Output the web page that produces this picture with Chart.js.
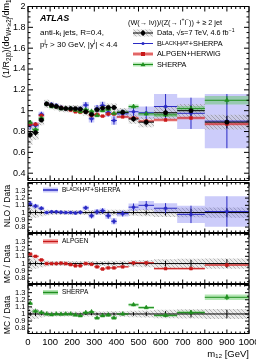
<!DOCTYPE html>
<html>
<head>
<meta charset="utf-8">
<script src="https://cdn.jsdelivr.net/npm/chart.js@4.4.1/dist/chart.umd.min.js"></script>
<style>
html, body { margin: 0; padding: 0; background: #fff; }
#wrap { position: relative; width: 256px; height: 360px; }
.pan { position: absolute; left: 0; width: 256px; }
</style>
</head>
<body>
<div id="wrap">
  <div class="pan" style="top:0;height:185px"><canvas id="cMain"></canvas></div>
  <div class="pan" style="top:178px;height:59px"><canvas id="cBH"></canvas></div>
  <div class="pan" style="top:229px;height:59px"><canvas id="cAlp"></canvas></div>
  <div class="pan" style="top:280px;height:80px"><canvas id="cSh"></canvas></div>
</div>
<script>
// m12 bin edges [GeV]
const edges = [0, 20, 48, 73, 96, 117, 139, 160, 182, 204, 225, 248, 275, 300, 325, 350, 376, 402, 455, 500, 570, 675, 800, 1000];

// data (main panel) and its uncertainties
const dataVals = [0.77, 0.79, 0.91, 1.065, 1.05, 1.04, 1.025, 1.02, 1.02, 1.02, 1.015, 0.99, 0.965, 1.01, 1.025, 1.03, 1.03, 0.985, 0.92, 0.89, 0.98, 1.0, 0.89];
const dataStat = [0.03, 0.03, 0.02, 0.015, 0.012, 0.012, 0.012, 0.012, 0.012, 0.012, 0.012, 0.015, 0.015, 0.015, 0.015, 0.015, 0.02, 0.02, 0.025, 0.03, 0.04, 0.05, 0.06];
const dataSys = [0.10, 0.07, 0.05, 0.04, 0.035, 0.035, 0.035, 0.035, 0.035, 0.035, 0.035, 0.035, 0.035, 0.035, 0.035, 0.04, 0.04, 0.04, 0.045, 0.05, 0.06, 0.065, 0.07];

// BlackHat+Sherpa
const bhMain = [0.86, 0.86, 0.965, 1.065, 1.06, 1.05, 1.03, 1.02, 1.02, 1.015, 1.02, 1.054, 0.922, 1.02, 1.05, 0.984, 0.906, 0.97, 0.99, 0.98, 1.04, 0.975, 0.90];
const bhMainErr = [0.04, 0.03, 0.025, 0.02, 0.02, 0.02, 0.02, 0.02, 0.02, 0.02, 0.02, 0.03, 0.035, 0.035, 0.035, 0.04, 0.04, 0.04, 0.05, 0.06, 0.12, 0.15, 0.26];
const bhRatio = [1.12, 1.09, 1.06, 1.0, 1.01, 1.01, 1.005, 1.0, 1.0, 0.995, 1.005, 1.065, 0.955, 1.01, 1.025, 0.955, 0.88, 0.985, 1.075, 1.10, 1.06, 0.975, 1.015];
const bhErr = [0.04, 0.03, 0.025, 0.02, 0.02, 0.02, 0.02, 0.02, 0.02, 0.02, 0.02, 0.03, 0.035, 0.035, 0.035, 0.04, 0.04, 0.04, 0.05, 0.06, 0.07, 0.12, 0.21];

// ALPGEN+HERWIG
const alpMain = [0.87, 0.87, 0.955, 1.065, 1.05, 1.04, 1.03, 1.02, 1.005, 0.99, 0.985, 0.99, 0.955, 0.965, 0.948, 0.968, 0.968, 0.94, 0.929, 0.90, 0.911, 0.93, 0.872];
const alpRatio = [1.13, 1.10, 1.05, 1.0, 1.0, 1.0, 1.005, 1.0, 0.985, 0.97, 0.97, 1.0, 0.99, 0.955, 0.925, 0.94, 0.94, 0.955, 1.01, 1.01, 0.93, 0.93, 0.98];
const alpErr = [0.02, 0.015, 0.012, 0.008, 0.008, 0.008, 0.008, 0.008, 0.008, 0.008, 0.008, 0.01, 0.01, 0.01, 0.01, 0.01, 0.01, 0.012, 0.012, 0.012, 0.015, 0.015, 0.015];

// SHERPA
const shMain = [0.886, 0.82, 0.928, 1.065, 1.04, 1.04, 1.02, 1.02, 1.02, 1.005, 0.99, 1.01, 0.994, 0.954, 0.999, 1.015, 0.973, 0.985, 1.04, 0.97, 0.96, 1.02, 1.10];
const shRatio = [1.15, 1.04, 1.02, 1.0, 0.99, 1.0, 0.995, 1.0, 1.0, 0.985, 0.975, 1.02, 1.03, 0.945, 0.975, 0.985, 0.945, 1.0, 1.13, 1.09, 0.98, 1.02, 1.235];
const shErr = [0.02, 0.015, 0.012, 0.01, 0.01, 0.01, 0.01, 0.01, 0.01, 0.01, 0.01, 0.012, 0.012, 0.012, 0.012, 0.015, 0.015, 0.015, 0.02, 0.02, 0.02, 0.025, 0.04];

// tick labels
const xTicks = [0, 100, 200, 300, 400, 500, 600, 700, 800, 900, 1000];
const mainTicks = [0.4, 0.6, 0.8, 1, 1.2, 1.4, 1.6, 1.8, 2];
const ratioTicks = [0.8, 0.9, 1, 1.1, 1.2, 1.3];

const FONT = "'Liberation Sans', Arial, Helvetica, sans-serif";
Chart.defaults.font.family = FONT;
Chart.defaults.color = '#000';

const BLUE = '#2a2ac4', BLUE_BOX = 'rgba(110,110,240,0.35)';
const RED = '#c81818', RED_BAND = 'rgba(240,90,90,0.45)';
const GREEN = '#1f8f1f', GREEN_BAND = 'rgba(90,200,90,0.45)';

// hatched fill for the data uncertainty
const tile = document.createElement('canvas');
tile.width = 4; tile.height = 4;
const tg = tile.getContext('2d');
tg.fillStyle = 'rgba(200,200,200,0.35)';
tg.fillRect(0, 0, 4, 4);
tg.strokeStyle = 'rgba(120,120,120,0.7)';
tg.lineWidth = 0.7;
tg.beginPath(); tg.moveTo(0, 0); tg.lineTo(4, 4); tg.moveTo(-1, 3); tg.lineTo(1, 5); tg.moveTo(3, -1); tg.lineTo(5, 1); tg.stroke();
const HATCH = tg.createPattern(tile, 'repeat');

const nBins = edges.length - 1;
const centers = edges.slice(0, -1).map((e, i) => (e + edges[i + 1]) / 2);
const plus = (a, b) => a.map((v, i) => v + b[i]);
const minus = (a, b) => a.map((v, i) => v - b[i]);
const ones = centers.map(() => 1);

function stepLine(vals) {
    const pts = vals.map((v, i) => ({ x: edges[i], y: v }));
    pts.push({ x: edges[nBins], y: vals[nBins - 1] });
    return pts;
}
function hBars(vals) {
    const pts = [];
    vals.forEach((v, i) => pts.push({ x: edges[i], y: v }, { x: edges[i + 1], y: v }, { x: edges[i + 1], y: null }));
    return pts;
}
function vBars(vals, errs) {
    const pts = [];
    vals.forEach((v, i) => pts.push({ x: centers[i], y: v - errs[i] }, { x: centers[i], y: v + errs[i] }, { x: centers[i], y: null }));
    return pts;
}
function points(vals) {
    return vals.map((v, i) => ({ x: centers[i], y: v }));
}

// datasets pushed back-to-front
function Sets() { this.list = []; }
Sets.prototype.add = function (ds) {
    const base = { pointRadius: 0, borderWidth: 1, fill: false, tension: 0, borderColor: '#000' };
    this.list.push(Object.assign(base, ds, { order: -this.list.length }));
    return this.list.length - 1;
};
Sets.prototype.band = function (up, dn, color) {
    const lo = this.add({ data: stepLine(dn), stepped: true, borderWidth: 0, borderColor: 'transparent' });
    this.add({ data: stepLine(up), stepped: true, borderWidth: 0, borderColor: 'transparent', fill: lo, backgroundColor: color });
};
Sets.prototype.marks = function (vals, color, style, r) {
    this.add({ data: points(vals), showLine: false, pointRadius: r, pointStyle: style,
        pointBackgroundColor: color, pointBorderColor: color, pointBorderWidth: 0.5 });
};

// rich text: parts are strings or [text, scale, dy, hold]
function drawParts(ctx, x, y, parts, size, style, draw = true) {
    let cx = x, held = 0;
    parts.forEach(p => {
        const [t, s, dy, hold] = typeof p === 'string' ? [p, 1, 0, false] : [p[0], p[1] ?? 1, p[2] ?? 0, p[3] ?? false];
        ctx.font = `${style || ''} ${size * s}px ${FONT}`;
        const w = ctx.measureText(t).width;
        if (draw) ctx.fillText(t, cx, y + dy * size);
        if (hold) { held = w; } else { cx += Math.max(w, held); held = 0; }
    });
    return cx - x;
}
function vTitle(ctx, cx, cy, parts, size, align) {
    ctx.save();
    ctx.translate(cx, cy);
    ctx.rotate(-Math.PI / 2);
    ctx.textBaseline = 'middle';
    ctx.textAlign = 'left';
    const w = drawParts(ctx, 0, 0, parts, size, '', false);
    drawParts(ctx, align === 'end' ? -w : -w / 2, 0, parts, size);
    ctx.restore();
}
const smallCaps = (pairs) => pairs.map(([t, small]) => small ? [t, 0.78] : t);

// frame with inward ticks on all four sides
function frame(o) {
    return {
        id: 'frame',
        afterDatasetsDraw(chart) {
            const { ctx, chartArea: a } = chart;
            const x = chart.scales.x, y = chart.scales.y;
            ctx.save();
            ctx.strokeStyle = '#000';
            ctx.lineWidth = 1;
            ctx.strokeRect(a.left, a.top, a.right - a.left, a.bottom - a.top);
            ctx.beginPath();
            for (let m = 0; m <= 1000; m += 20) {
                const px = x.getPixelForValue(m);
                const len = m % 100 === 0 ? o.xLen : o.xLen / 2;
                ctx.moveTo(px, a.bottom); ctx.lineTo(px, a.bottom - len);
                ctx.moveTo(px, a.top); ctx.lineTo(px, a.top + len);
            }
            const k0 = Math.ceil(y.min / o.yStep - 1e-6), k1 = Math.floor(y.max / o.yStep + 1e-6);
            for (let k = k0; k <= k1; k++) {
                const v = k * o.yStep;
                const r = v / o.yMajor;
                const len = Math.abs(r - Math.round(r)) < 1e-6 ? o.yLen : o.yLen / 2;
                const py = y.getPixelForValue(v);
                ctx.moveTo(a.left, py); ctx.lineTo(a.left + len, py);
                ctx.moveTo(a.right, py); ctx.lineTo(a.right - len, py);
            }
            ctx.stroke();
            ctx.restore();
        }
    };
}

function makePanel(id, sets, yMin, yMax, yTicks, yFont, padTop, showX, frameOpts, deco) {
    return new Chart(document.getElementById(id), {
        type: 'line',
        data: { datasets: sets.list },
        options: {
            responsive: true,
            maintainAspectRatio: false,
            animation: false,
            layout: { padding: { top: padTop, bottom: showX ? 0 : 2, left: 0, right: 7 } },
            plugins: { legend: { display: false }, tooltip: { enabled: false } },
            scales: {
                x: {
                    type: 'linear', min: 0, max: 1000, display: showX,
                    grid: { display: false, drawTicks: false },
                    border: { display: false },
                    afterBuildTicks: s => { s.ticks = xTicks.map(v => ({ value: v })); },
                    afterFit: s => { s.height = showX ? 26.5 : 0; s.paddingLeft = 0; s.paddingRight = 0; },
                    ticks: { font: { size: 9.5 }, padding: 3, maxRotation: 0, autoSkip: false, callback: v => String(v) },
                    title: { display: showX, text: 'm₁₂ [GeV]', align: 'end', font: { size: 9.5 }, padding: 0 }
                },
                y: {
                    min: yMin, max: yMax,
                    grid: { display: false, drawTicks: false },
                    border: { display: false },
                    afterBuildTicks: s => { s.ticks = yTicks.map(v => ({ value: v })); },
                    afterFit: s => { s.width = 28; s.paddingTop = 0; s.paddingBottom = 0; },
                    ticks: { font: { size: yFont }, padding: 2.5, autoSkip: false, callback: v => String(v) }
                }
            }
        },
        plugins: [frame(frameOpts), deco]
    });
}

// ---------- main panel ----------
const mainSets = new Sets();
mainSets.band(plus(bhMain, bhMainErr), minus(bhMain, bhMainErr), BLUE_BOX);
mainSets.band(plus(dataVals, dataSys), minus(dataVals, dataSys), HATCH);
mainSets.band(plus(alpMain, alpErr), minus(alpMain, alpErr), RED_BAND);
mainSets.band(plus(shMain, shErr), minus(shMain, shErr), GREEN_BAND);
mainSets.add({ data: hBars(bhMain), borderColor: BLUE });
mainSets.add({ data: vBars(bhMain, bhMainErr), borderColor: BLUE });
mainSets.add({ data: hBars(alpMain), borderColor: RED });
mainSets.add({ data: hBars(shMain), borderColor: GREEN });
mainSets.add({ data: vBars(shMain, shErr), borderColor: GREEN });
mainSets.add({ data: hBars(dataVals), borderColor: '#000' });
mainSets.add({ data: vBars(dataVals, dataStat), borderColor: '#000' });
mainSets.marks(bhMain, BLUE, 'circle', 1.5);
mainSets.marks(alpMain, RED, 'rect', 2);
mainSets.marks(shMain, GREEN, 'triangle', 2.5);
mainSets.marks(dataVals, '#000', 'circle', 2.2);

const mainDeco = {
    id: 'deco',
    afterDraw(chart) {
        const ctx = chart.ctx;
        ctx.save();
        ctx.fillStyle = '#000';
        ctx.textBaseline = 'middle';
        ctx.textAlign = 'left';
        drawParts(ctx, 40, 18.5, ['ATLAS'], 9, 'italic bold');
        drawParts(ctx, 40, 32.5, ['anti-k', ['t', 0.7, 0.3], ' jets, R=0.4,'], 8);
        drawParts(ctx, 40, 44.5, ['p', ['j', 0.7, -0.35, true], ['T', 0.7, 0.3], ' > 30 GeV, |y', ['j', 0.7, -0.35], '| < 4.4'], 8);
        drawParts(ctx, 128, 22.5, ['(W(→ lν))/(Z(→ l', ['+', 0.7, -0.35], 'l', ['−', 0.7, -0.35], ')) + ≥ 2 jet'], 7.3);

        const sx0 = 133, sx1 = 153, tx = 157;
        const rows = [33, 43.5, 54, 64.5];
        // data
        ctx.fillStyle = HATCH; ctx.fillRect(sx0, rows[0] - 3.5, sx1 - sx0, 7);
        ctx.strokeStyle = '#000'; ctx.lineWidth = 1;
        ctx.beginPath(); ctx.moveTo(sx0, rows[0]); ctx.lineTo(sx1, rows[0]);
        ctx.moveTo(143, rows[0] - 3); ctx.lineTo(143, rows[0] + 3); ctx.stroke();
        ctx.fillStyle = '#000'; ctx.beginPath(); ctx.arc(143, rows[0], 2.2, 0, 2 * Math.PI); ctx.fill();
        // blackhat
        ctx.strokeStyle = BLUE; ctx.beginPath(); ctx.moveTo(sx0, rows[1]); ctx.lineTo(sx1, rows[1]); ctx.stroke();
        ctx.fillStyle = BLUE; ctx.beginPath(); ctx.arc(143, rows[1], 1.5, 0, 2 * Math.PI); ctx.fill();
        // alpgen
        ctx.fillStyle = RED_BAND; ctx.fillRect(sx0, rows[2] - 2, sx1 - sx0, 4);
        ctx.strokeStyle = RED; ctx.beginPath(); ctx.moveTo(sx0, rows[2]); ctx.lineTo(sx1, rows[2]); ctx.stroke();
        ctx.fillStyle = RED; ctx.fillRect(141, rows[2] - 2, 4, 4);
        // sherpa
        ctx.fillStyle = GREEN_BAND; ctx.fillRect(sx0, rows[3] - 2, sx1 - sx0, 4);
        ctx.strokeStyle = GREEN; ctx.beginPath(); ctx.moveTo(sx0, rows[3]); ctx.lineTo(sx1, rows[3]); ctx.stroke();
        ctx.fillStyle = GREEN; ctx.beginPath(); ctx.moveTo(143, rows[3] - 2.5); ctx.lineTo(145.5, rows[3] + 1.8); ctx.lineTo(140.5, rows[3] + 1.8); ctx.closePath(); ctx.fill();

        ctx.fillStyle = '#000';
        drawParts(ctx, tx, rows[0], ['Data, √s=7 TeV, 4.6 fb', ['−1', 0.7, -0.35]], 7.3);
        drawParts(ctx, tx, rows[1], smallCaps([['B'], ['LACK', 1], ['H'], ['AT', 1], ['+SHERPA']]), 7.3);
        drawParts(ctx, tx, rows[2], ['ALPGEN+HERWIG'], 7.3);
        drawParts(ctx, tx, rows[3], ['SHERPA'], 7.3);

        vTitle(ctx, 7, 7, ['(1/R', ['2|0', 0.7, 0.3], ')(dσ', ['W+≥2j', 0.7, 0.3], '/dm', ['12', 0.7, 0.3],
            ')/(dσ', ['Z+≥2j', 0.7, 0.3], '/dm', ['12', 0.7, 0.3], ')'], 9);
        ctx.restore();
    }
};

makePanel('cMain', mainSets, 0.33, 2, mainTicks, 9, 6.5, false,
    { xLen: 5, yStep: 0.05, yMajor: 0.2, yLen: 5 }, mainDeco);

// ---------- ratio panels ----------
function ratioDeco(top, legend, title) {
    return {
        id: 'deco',
        afterDraw(chart) {
            const ctx = chart.ctx;
            ctx.save();
            ctx.textBaseline = 'middle';
            ctx.textAlign = 'left';
            const y = legend.y - top;
            ctx.fillStyle = legend.fill; ctx.fillRect(43, y - 2.5, 15, 5);
            ctx.strokeStyle = legend.color; ctx.lineWidth = 1.5;
            ctx.beginPath(); ctx.moveTo(43, y); ctx.lineTo(58, y); ctx.stroke();
            ctx.fillStyle = '#000';
            drawParts(ctx, 62, y, legend.text, 6.5);
            vTitle(ctx, 8, title.y - top, title.parts, 8.5, 'center');
            ctx.restore();
        }
    };
}
const ratioFrame = { xLen: 4, yStep: 0.05, yMajor: 0.1, yLen: 4 };
const R_MIN = 0.725, R_MAX = 1.415;

const bhSets = new Sets();
bhSets.band(plus(ones, dataSys), minus(ones, dataSys), HATCH);
bhSets.band(plus(bhRatio, bhErr), minus(bhRatio, bhErr), BLUE_BOX);
bhSets.add({ data: [{ x: 0, y: 1 }, { x: 1000, y: 1 }], borderColor: '#000' });
bhSets.add({ data: vBars(ones, dataStat), borderColor: '#000' });
bhSets.add({ data: hBars(bhRatio), borderColor: BLUE });
bhSets.add({ data: vBars(bhRatio, bhErr), borderColor: BLUE });
bhSets.marks(bhRatio, BLUE, 'circle', 1.5);
makePanel('cBH', bhSets, R_MIN, R_MAX, ratioTicks, 7.5, 3, false, ratioFrame,
    ratioDeco(178, { y: 190, color: BLUE, fill: BLUE_BOX, text: smallCaps([['B'], ['LACK', 1], ['H'], ['AT', 1], ['+SHERPA']]) },
        { y: 206, parts: ['NLO / Data'] }));

const alpSets = new Sets();
alpSets.band(plus(ones, dataSys), minus(ones, dataSys), HATCH);
alpSets.band(plus(alpRatio, alpErr), minus(alpRatio, alpErr), RED_BAND);
alpSets.add({ data: [{ x: 0, y: 1 }, { x: 1000, y: 1 }], borderColor: '#000' });
alpSets.add({ data: vBars(ones, dataStat), borderColor: '#000' });
alpSets.add({ data: hBars(alpRatio), borderColor: RED });
alpSets.marks(alpRatio, RED, 'rect', 2);
makePanel('cAlp', alpSets, R_MIN, R_MAX, ratioTicks, 7.5, 3, false, ratioFrame,
    ratioDeco(229, { y: 241.5, color: RED, fill: RED_BAND, text: ['ALPGEN'] },
        { y: 264, parts: ['MC / Data'] }));

const shSets = new Sets();
shSets.band(plus(ones, dataSys), minus(ones, dataSys), HATCH);
shSets.band(plus(shRatio, shErr), minus(shRatio, shErr), GREEN_BAND);
shSets.add({ data: [{ x: 0, y: 1 }, { x: 1000, y: 1 }], borderColor: '#000' });
shSets.add({ data: vBars(ones, dataStat), borderColor: '#000' });
shSets.add({ data: hBars(shRatio), borderColor: GREEN });
shSets.add({ data: vBars(shRatio, shErr), borderColor: GREEN });
shSets.marks(shRatio, GREEN, 'triangle', 2.5);
makePanel('cSh', shSets, R_MIN, R_MAX, ratioTicks, 7.5, 3, true, ratioFrame,
    ratioDeco(280, { y: 292.5, color: GREEN, fill: GREEN_BAND, text: ['SHERPA'] },
        { y: 315, parts: ['MC / Data'] }));
</script>
</body>
</html>
